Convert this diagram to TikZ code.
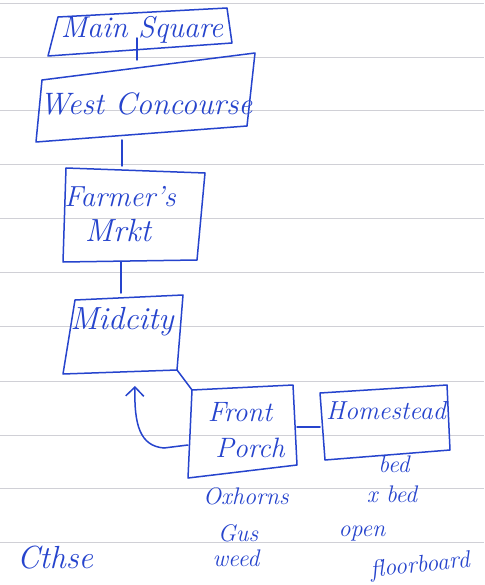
\documentclass[tikz,border=0pt]{standalone}
\usetikzlibrary{arrows.meta}
\definecolor{ink}{RGB}{38,68,205}
\definecolor{ruling}{RGB}{208,208,214}
\begin{document}
\begin{tikzpicture}[x=1pt,y=-1pt,
  box/.style={draw=ink,line width=1.5pt,line join=round,line cap=round},
  link/.style={draw=ink,line width=1.5pt,line cap=round},
  lbl/.style={text=ink,inner sep=0pt,font=\itshape\fontsize{#1}{#1}\selectfont},
  lbl/.default=26]
\useasboundingbox (0,0) rectangle (484,585);
\fill[white] (0,0) rectangle (484,585);
% ruled paper
\foreach \yy in {3,57,110,164,218,272,326,381,435,488,542}
  \draw[ruling,line width=0.9pt] (0,\yy) -- (484,\yy);

% box corners
\coordinate (ms1) at (58,17);  \coordinate (ms2) at (227,8);
\coordinate (ms3) at (232,43); \coordinate (ms4) at (48,56);
\coordinate (wc1) at (42,80);  \coordinate (wc2) at (255,53);
\coordinate (wc3) at (247,126);\coordinate (wc4) at (36,142);
\coordinate (fm1) at (66,168); \coordinate (fm2) at (205,173);
\coordinate (fm3) at (197,260);\coordinate (fm4) at (63,262);
\coordinate (mc1) at (75,300); \coordinate (mc2) at (183,295);
\coordinate (mc3) at (177,370);\coordinate (mc4) at (63,374);
\coordinate (fp1) at (192,390);\coordinate (fp2) at (293,385);
\coordinate (fp3) at (297,465);\coordinate (fp4) at (188,478);
\coordinate (hs1) at (320,393);\coordinate (hs2) at (447,385);
\coordinate (hs3) at (450,450);\coordinate (hs4) at (325,460);

\draw[box] (ms1) -- (ms2) -- (ms3) -- (ms4) -- cycle;
\draw[box] (wc1) -- (wc2) -- (wc3) -- (wc4) -- cycle;
\draw[box] (fm1) -- (fm2) -- (fm3) -- (fm4) -- cycle;
\draw[box] (mc1) -- (mc2) -- (mc3) -- (mc4) -- cycle;
\draw[box] (fp1) -- (fp2) -- (fp3) -- (fp4) -- cycle;
\draw[box] (hs1) -- (hs2) -- (hs3) -- (hs4) -- cycle;

% labels
\node[lbl=30] (msT) at (142,30) {Main Square};
\node[lbl=31] (wcT) at (146,104) {West Concourse};
\node[lbl=29] (fmT1) at (120,197) {Farmer's};
\node[lbl=32] (fmT2) at (118,231) {Mrkt};
\node[lbl=32] (mcT) at (122,322) {Midcity};
\node[lbl=28] (fpT1) at (240,412) {Front};
\node[lbl=28] (fpT2) at (250,448) {Porch};
\node[lbl=26] (hsT) at (386,411) {Homestead};
\node[lbl=24] (a1) at (394,464) {bed};
\node[lbl=24] (a2) at (392,494) {x bed};
\node[lbl=24] (a3) at (362,534) {open};
\node[lbl=24,rotate=6] (a4) at (420,566) {floorboard};
\node[lbl=24] (b1) at (246,496) {Oxhorns};
\node[lbl=24] (b2) at (238,533) {Gus};
\node[lbl=24] (b3) at (236,558) {weed};
\node[lbl=32] (c1) at (55,558) {Cthse};

% connectors
\coordinate (msB) at (137,38); \coordinate (wcT0) at (137,60);
\coordinate (wcB) at (122,140); \coordinate (fmT0) at (122,166);
\coordinate (fmB) at (121,262); \coordinate (mcT0) at (121,293);
\coordinate (fpR) at (297,427); \coordinate (hsL) at (320,427);
\coordinate (fpL) at (188,445); \coordinate (arr) at (135,386);
\draw[link] (msB) -- (wcT0);
\draw[link] (wcB) -- (fmT0);
\draw[link] (fmB) -- (mcT0);
\draw[link] (mc3) -- (fp1);
\draw[link] (fpR) -- (hsL);
\draw[link,-{Straight Barb[length=9pt,width=18pt,line width=1.5pt]}]
  (fpL) -- (164,448) .. controls (140,446) and (134,425) .. (arr);
\end{tikzpicture}
\end{document}
